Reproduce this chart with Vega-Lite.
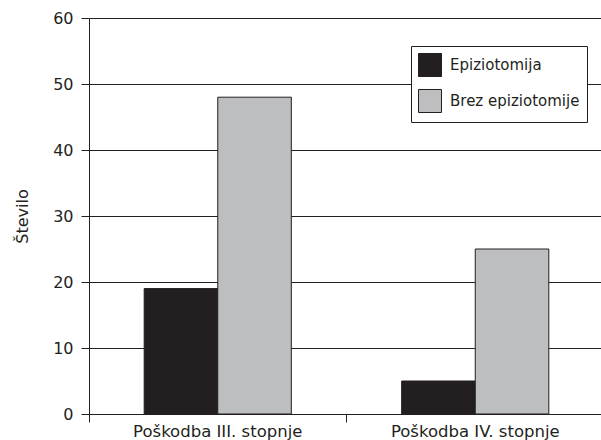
{
  "$schema": "https://vega.github.io/schema/vega-lite/v6.json",
  "width": 515,
  "height": 396,
  "autosize": {"type": "none"},
  "padding": {"left": 89, "top": 18, "right": 0, "bottom": 26},
  "background": "white",
  "data": {
    "values": [
      {"kategorija": "Poškodba III. stopnje", "skupina": "Epiziotomija", "stevilo": 19},
      {"kategorija": "Poškodba III. stopnje", "skupina": "Brez epiziotomije", "stevilo": 48},
      {"kategorija": "Poškodba IV. stopnje", "skupina": "Epiziotomija", "stevilo": 5},
      {"kategorija": "Poškodba IV. stopnje", "skupina": "Brez epiziotomije", "stevilo": 25}
    ]
  },
  "config": {
    "font": "DejaVu Sans",
    "view": {"stroke": null},
    "axis": {
      "labelFont": "DejaVu Sans",
      "titleFont": "DejaVu Sans",
      "labelColor": "#231f20",
      "titleColor": "#231f20",
      "titleFontWeight": "normal",
      "domainColor": "#231f20",
      "tickColor": "#231f20",
      "gridColor": "#231f20",
      "gridOpacity": 1
    }
  },
  "mark": {"type": "bar", "stroke": "#231f20", "strokeWidth": 1},
  "encoding": {
    "x": {
      "field": "kategorija",
      "type": "nominal",
      "sort": null,
      "scale": {"paddingInner": 0, "paddingOuter": 0},
      "axis": {
        "title": null,
        "labelAngle": 0,
        "labelFontSize": 16.5,
        "bandPosition": 0,
        "tickSize": 8,
        "labelPadding": 1,
        "domainWidth": 1,
        "grid": false
      }
    },
    "xOffset": {
      "field": "skupina",
      "type": "nominal",
      "sort": ["Epiziotomija", "Brez epiziotomije"],
      "scale": {"paddingInner": 0, "paddingOuter": 0.75}
    },
    "y": {
      "field": "stevilo",
      "type": "quantitative",
      "scale": {"domain": [0, 60], "nice": false},
      "axis": {
        "title": "Število",
        "labelFontSize": 16,
        "titleFontSize": 16,
        "values": [0, 10, 20, 30, 40, 50, 60],
        "grid": true,
        "tickSize": 8,
        "labelPadding": 8,
        "titlePadding": 22,
        "domainWidth": 1
      }
    },
    "color": {
      "field": "skupina",
      "type": "nominal",
      "sort": ["Epiziotomija", "Brez epiziotomije"],
      "scale": {"domain": ["Epiziotomija", "Brez epiziotomije"], "range": ["#231f20", "#bcbec0"]},
      "legend": {
        "title": null,
        "orient": "none",
        "legendX": 322,
        "legendY": 28,
        "fillColor": "white",
        "strokeColor": "#231f20",
        "padding": 7,
        "symbolType": "square",
        "symbolSize": 529,
        "symbolStrokeColor": "#231f20",
        "symbolStrokeWidth": 1,
        "symbolOpacity": 1,
        "rowPadding": 8,
        "labelFont": "DejaVu Sans",
        "labelFontSize": 15,
        "labelColor": "#231f20",
        "labelOffset": 8
      }
    }
  }
}
